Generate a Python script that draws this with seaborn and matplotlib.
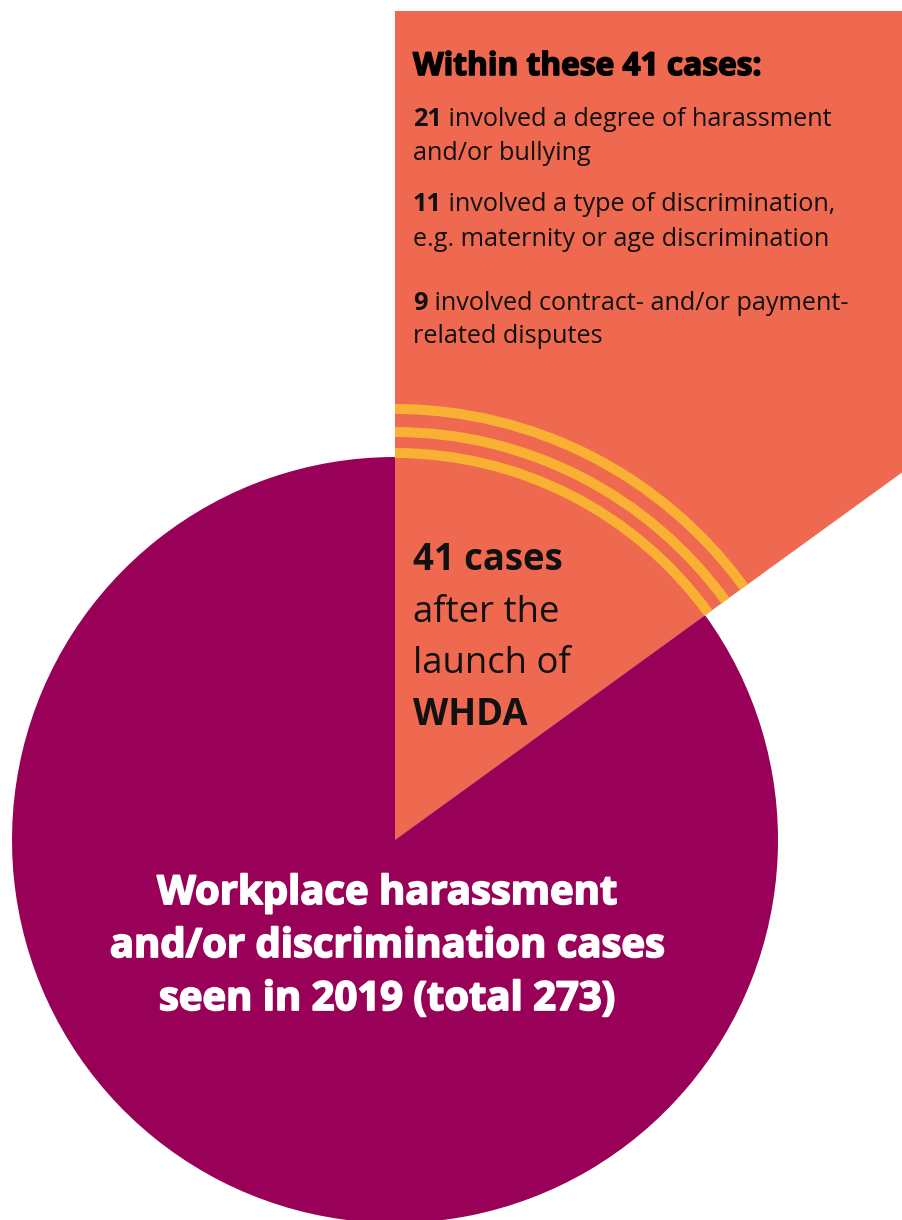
import matplotlib
matplotlib.use("Agg")
import matplotlib.pyplot as plt
import matplotlib.patheffects as pe
from matplotlib.patches import Wedge, Arc, Rectangle
import seaborn as sns

# Case counts
total_cases = 273
after_launch = 41
slice_values = [after_launch, total_cases - after_launch]

# Breakdown of the cases seen after the launch
breakdown_counts = [21, 11, 9]
breakdown_first_line = [
    "involved a degree of harassment",
    "involved a type of discrimination,",
    "involved contract- and/or payment-",
]
breakdown_second_line = [
    "and/or bullying",
    "e.g. maternity or age discrimination",
    "related disputes",
]

ORANGE = "#EE6950"
PURPLE = "#990057"
YELLOW = "#F8B133"
INK = "#111111"

sns.set_theme(style="white")
plt.rcParams["font.family"] = ["Open Sans", "DejaVu Sans"]

W, H = 902, 1220
fig = plt.figure(figsize=(W / 100, H / 100), dpi=100)
ax = fig.add_axes([0, 0, 1, 1])

cx, cy = 395, H - 840
R = 383
palette = sns.color_palette([ORANGE, PURPLE])

ax.pie(slice_values, colors=palette, startangle=90, counterclock=False,
       radius=R, center=(cx, cy), frame=True,
       wedgeprops=dict(linewidth=0))

# The highlighted slice continues outward as a large fan, cut at the page edge
span = 360 * after_launch / total_cases
theta_lo = 90 - span
fan = Wedge((cx, cy), 2000, theta_lo, 90, facecolor=ORANGE, linewidth=0, zorder=0.5)
ax.add_patch(fan)
fan.set_clip_path(Rectangle((0, 0), W, H - 11, transform=ax.transData))

for r in (387, 408, 431):
    ax.add_patch(Arc((cx, cy), 2 * r, 2 * r, theta1=theta_lo, theta2=90,
                     color=YELLOW, linewidth=7.2, capstyle="butt", zorder=3))

ax.set_xlim(0, W)
ax.set_ylim(0, H)
ax.set_aspect("equal")
ax.axis("off")


def heavy(color, width):
    # thicken bold glyphs a little for an extra-bold look
    return [pe.Stroke(linewidth=width, foreground=color), pe.Normal()]


# Panel text
x0 = 413
ax.text(x0, H - 75, f"Within these {after_launch} cases:", fontsize=22.8,
        fontweight="bold", color="black", va="baseline",
        path_effects=heavy("black", 1.1))

body = 18.2
line_pairs = [(126, 160), (211, 246), (310, 343)]
for count, first, second, (b1, b2) in zip(breakdown_counts, breakdown_first_line,
                                          breakdown_second_line, line_pairs):
    num = ax.text(x0, H - b1, str(count), fontsize=body, fontweight="bold",
                  color=INK, va="baseline")
    ax.annotate(" " + first, xy=(1, 0), xycoords=num, ha="left", va="bottom",
                fontsize=body, color=INK)
    ax.text(x0, H - b2, second, fontsize=body, color=INK, va="baseline")

# Slice label
mid = 26.3
ax.text(x0, H - 570, f"{after_launch} cases", fontsize=mid, fontweight="bold",
        color=INK, va="baseline")
ax.text(x0, H - 622, "after the", fontsize=mid, color=INK, va="baseline")
ax.text(x0, H - 673, "launch of", fontsize=mid, color=INK, va="baseline")
ax.text(x0, H - 725, "WHDA", fontsize=mid, fontweight="bold", color=INK, va="baseline")

# Main circle label
main_lines = ["Workplace harassment", "and/or discrimination cases",
              f"seen in 2019 (total {total_cases})"]
for line, b in zip(main_lines, (904, 957, 1010)):
    ax.text(387, H - b, line, fontsize=28.8, fontweight="bold", color="white",
            ha="center", va="baseline", path_effects=heavy("white", 1.3))

fig.savefig("out.png", dpi=100)
